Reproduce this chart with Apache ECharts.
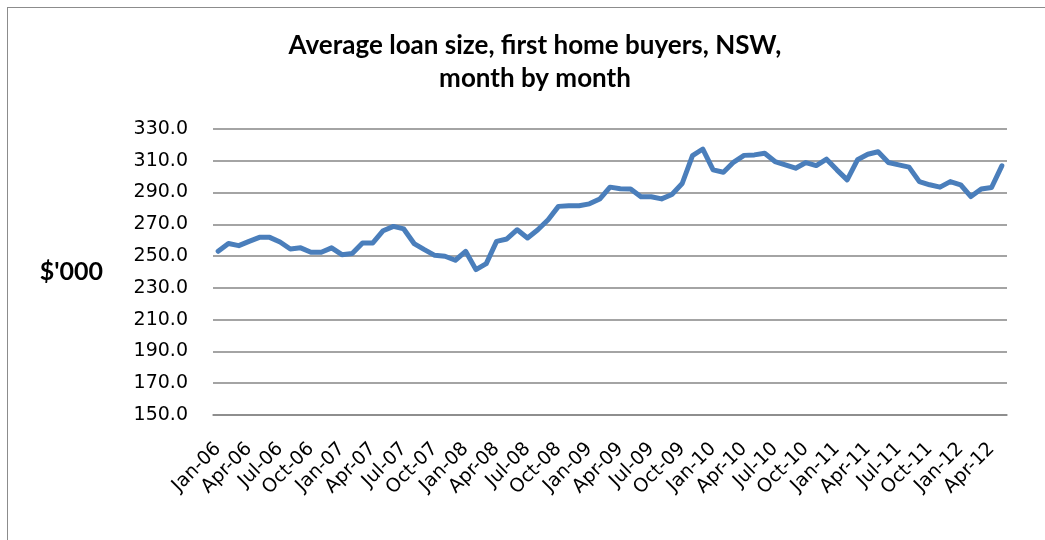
<!DOCTYPE html>
<html>
<head>
<meta charset="utf-8">
<script src="https://cdn.jsdelivr.net/npm/echarts@6/dist/echarts.min.js"></script>
<style>
  html, body { margin: 0; padding: 0; background: #ffffff; }
  #frame { position: absolute; left: 7px; top: 7px; width: 1045px; height: 540px;
           border-left: 1px solid #8c8c8c; border-top: 1px solid #8c8c8c; }
  #chart { position: absolute; left: 0; top: 0; width: 1045px; height: 540px; }
</style>
</head>
<body>
<div id="frame"></div>
<div id="chart"></div>
<script>
// Monthly labels, Jan-06 through May-12
const months = [
  'Jan-06','Feb-06','Mar-06','Apr-06','May-06','Jun-06','Jul-06','Aug-06','Sep-06','Oct-06','Nov-06','Dec-06',
  'Jan-07','Feb-07','Mar-07','Apr-07','May-07','Jun-07','Jul-07','Aug-07','Sep-07','Oct-07','Nov-07','Dec-07',
  'Jan-08','Feb-08','Mar-08','Apr-08','May-08','Jun-08','Jul-08','Aug-08','Sep-08','Oct-08','Nov-08','Dec-08',
  'Jan-09','Feb-09','Mar-09','Apr-09','May-09','Jun-09','Jul-09','Aug-09','Sep-09','Oct-09','Nov-09','Dec-09',
  'Jan-10','Feb-10','Mar-10','Apr-10','May-10','Jun-10','Jul-10','Aug-10','Sep-10','Oct-10','Nov-10','Dec-10',
  'Jan-11','Feb-11','Mar-11','Apr-11','May-11','Jun-11','Jul-11','Aug-11','Sep-11','Oct-11','Nov-11','Dec-11',
  'Jan-12','Feb-12','Mar-12','Apr-12','May-12'
];

// Average loan size ($'000), first home buyers, NSW
const avgLoan = [
  253.0, 257.9, 256.6, 259.3, 261.8, 261.8, 258.9, 254.5, 255.2, 252.4, 252.4, 255.2,
  250.9, 251.6, 258.3, 258.3, 266.0, 268.7, 267.1, 257.9, 254.1, 250.5, 249.9, 247.4,
  253.0, 241.5, 245.3, 259.3, 260.8, 266.6, 261.4, 266.6, 272.9, 281.3, 281.7, 281.7,
  282.9, 285.9, 293.4, 292.4, 292.3, 287.4, 287.4, 286.0, 288.8, 295.7, 313.2, 317.4,
  304.3, 302.8, 309.2, 313.4, 313.7, 314.7, 309.5, 307.4, 305.3, 308.9, 307.0, 311.0,
  304.3, 298.0, 310.6, 314.1, 315.7, 308.9, 307.4, 306.0, 296.9, 294.9, 293.4, 296.9,
  294.9, 287.5, 292.2, 293.2, 306.8
];

// Value axis settings
const yMin = 150, yMax = 330, yStep = 20;

const titleLines = ['Average loan size, first home buyers, NSW,', 'month by month'];
const yName = "$'000";

const chart = echarts.init(document.getElementById('chart'), null, { renderer: 'canvas' });

chart.setOption({
  animation: false,
  backgroundColor: 'transparent',
  title: {
    text: titleLines.join('\n'),
    left: 530,
    top: 24,
    textAlign: 'center',
    textStyle: {
      fontFamily: 'Lato',
      fontWeight: 'bold',
      fontSize: 26,
      lineHeight: 33,
      color: '#000000'
    }
  },
  grid: { left: 213, right: 38, top: 129, bottom: 125, containLabel: false },
  xAxis: {
    type: 'category',
    data: months,
    boundaryGap: true,
    axisLine: { show: true, lineStyle: { color: '#868686', width: 1.5 } },
    axisTick: { show: false },
    axisLabel: {
      interval: 2,
      rotate: 45,
      margin: 31,
      fontFamily: 'DejaVu Sans',
      fontSize: 19,
      color: '#000000'
    },
    splitLine: { show: false }
  },
  yAxis: {
    type: 'value',
    min: yMin,
    max: yMax,
    interval: yStep,
    name: yName,
    nameLocation: 'middle',
    nameRotate: 0,
    nameGap: 110,
    nameTextStyle: {
      fontFamily: 'Lato',
      fontWeight: 'bold',
      fontSize: 25,
      color: '#000000',
      padding: [10, 0, 0, 0]
    },
    axisLine: { show: false },
    axisTick: { show: false },
    axisLabel: {
      margin: 25,
      fontFamily: 'DejaVu Sans',
      fontSize: 19,
      color: '#000000',
      formatter: v => v.toFixed(1)
    },
    splitLine: { show: true, lineStyle: { color: '#868686', width: 1.5 } }
  },
  series: [{
    type: 'line',
    data: avgLoan,
    symbol: 'none',
    smooth: false,
    lineStyle: { color: '#4a7ebb', width: 5, cap: 'round', join: 'round' }
  }]
});
</script>
</body>
</html>
